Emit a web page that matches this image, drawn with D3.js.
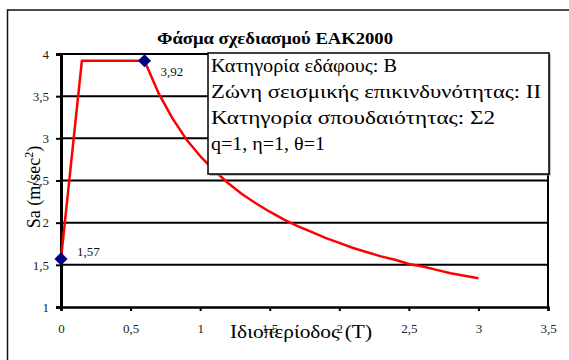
<!DOCTYPE html>
<html>
<head>
<meta charset="utf-8">
<script src="https://cdn.jsdelivr.net/npm/d3@7"></script>
<style>
  html, body { margin: 0; padding: 0; background: #fff; }
  svg { display: block; }
</style>
</head>
<body>
<svg id="chart" width="569" height="360"></svg>
<script>
// Design spectrum EAK2000: period T (s) vs spectral acceleration Sa (m/sec^2)
const periods = [0, 0.15, 0.6, 0.7, 0.8, 0.9, 1.0, 1.1, 1.2, 1.3, 1.4, 1.5, 1.6, 1.7, 1.8, 1.9,
                 2.0, 2.1, 2.2, 2.3, 2.4, 2.5, 2.6, 2.7, 2.8, 2.9, 3.0];
const saValues = [1.57, 3.92, 3.92, 3.54, 3.24, 2.99, 2.79, 2.62, 2.47, 2.34, 2.23, 2.13, 2.04, 1.96, 1.89, 1.82,
                  1.76, 1.70, 1.65, 1.60, 1.56, 1.51, 1.48, 1.44, 1.40, 1.37, 1.34];
// Labelled key points
const keyPeriods = [0, 0.6];
const keyValues = [1.57, 3.92];
const keyLabels = ["1,57", "3,92"];
// Axis ticks
const xTicks = [0, 0.5, 1, 1.5, 2, 2.5, 3, 3.5];
const yTicks = [1, 1.5, 2, 2.5, 3, 3.5, 4];
const infoLines = [
  "Κατηγορία εδάφους: Β",
  "Ζώνη σεισμικής επικινδυνότητας: ΙΙ",
  "Κατηγορία σπουδαιότητας: Σ2",
  "q=1, η=1, θ=1"
];
const title = "Φάσμα σχεδιασμού ΕΑΚ2000";
const xTitle = "Ιδιοπερίοδος (T)";

const SERIF = "'Liberation Serif', 'Times New Roman', Times, serif";
const fmt = v => String(v).replace(".", ",");

// Stretch a text element horizontally to a given advance width
function fitWidth(sel, w) {
  sel.attr("textLength", w).attr("lengthAdjust", "spacingAndGlyphs");
}

const svg = d3.select("#chart");
const plot = { left: 61, right: 548, top: 54, bottom: 307 };

const x = d3.scaleLinear().domain([0, 3.5]).range([plot.left, plot.right]);
const y = d3.scaleLinear().domain([1, 4]).range([plot.bottom, plot.top]);

// chart frame
svg.append("rect")
  .attr("x", 7.5).attr("y", 10).attr("width", 620).attr("height", 400)
  .attr("fill", "#fff").attr("stroke", "#111").attr("stroke-width", 1.5);

// horizontal gridlines
svg.append("g")
  .selectAll("line")
  .data(yTicks.filter(v => v > 1))
  .join("line")
  .attr("x1", plot.left).attr("x2", plot.right)
  .attr("y1", d => y(d)).attr("y2", d => y(d))
  .attr("stroke", "#000").attr("stroke-width", 2);

// right border of plot area
svg.append("line")
  .attr("x1", plot.right).attr("x2", plot.right)
  .attr("y1", plot.top).attr("y2", plot.bottom)
  .attr("stroke", "#000").attr("stroke-width", 2);

// x axis
const xAxis = d3.axisBottom(x).tickValues(xTicks).tickFormat(fmt).tickSize(4).tickPadding(13);
const gx = svg.append("g").attr("transform", `translate(0,${plot.bottom})`).call(xAxis);
gx.attr("font-family", null);
gx.select(".domain").attr("stroke", "#000").attr("stroke-width", 2.5);
gx.selectAll(".tick line").attr("stroke", "#000").attr("stroke-width", 2);
gx.selectAll(".tick text")
  .style("font-family", SERIF).attr("font-size", 13).attr("fill", "#222");

// y axis
const yAxis = d3.axisLeft(y).tickValues(yTicks).tickFormat(fmt).tickSize(5).tickPadding(7);
const gy = svg.append("g").attr("transform", `translate(${plot.left},0)`).call(yAxis);
gy.attr("font-family", null);
gy.select(".domain").attr("stroke", "#000").attr("stroke-width", 3);
gy.selectAll(".tick line").attr("stroke", "#000").attr("stroke-width", 2);
gy.selectAll(".tick text")
  .style("font-family", SERIF).attr("font-size", 13).attr("fill", "#222");

// spectrum curve
const line = d3.line().x(d => x(d[0])).y(d => y(d[1]));
svg.append("path")
  .datum(periods.map((t, i) => [t, saValues[i]]))
  .attr("d", line)
  .attr("fill", "none")
  .attr("stroke", "#ff0000")
  .attr("stroke-width", 2.5)
  .attr("stroke-linejoin", "round");

// key point markers
const keyPts = keyPeriods.map((t, i) => ({ t, v: keyValues[i], label: keyLabels[i] }));
svg.append("g")
  .selectAll("path")
  .data(keyPts)
  .join("path")
  .attr("d", d3.symbol().type(d3.symbolDiamond2).size(110))
  .attr("transform", d => `translate(${x(d.t)},${y(d.v)})`)
  .attr("fill", "#000080");

svg.append("g")
  .selectAll("text")
  .data(keyPts)
  .join("text")
  .attr("x", d => x(d.t) + 16)
  .attr("y", d => y(d.v) + (d.t === 0 ? -3 : 15))
  .style("font-family", SERIF)
  .attr("font-size", 13)
  .attr("fill", "#111")
  .text(d => d.label);

// info box
const box = { x: 208, y: 53, w: 341, h: 121 };
const infoWidths = [186, 330, 284, 114];
svg.append("rect")
  .attr("x", box.x + 1.5).attr("y", box.y + 1.5).attr("width", box.w).attr("height", box.h)
  .attr("fill", "#888");
svg.append("rect")
  .attr("x", box.x).attr("y", box.y).attr("width", box.w).attr("height", box.h)
  .attr("fill", "#fff").attr("stroke", "#000").attr("stroke-width", 1.5);
svg.append("g")
  .selectAll("text")
  .data(infoLines)
  .join("text")
  .attr("x", box.x + 3)
  .attr("y", (d, i) => box.y + 19 + i * 26)
  .style("font-family", SERIF)
  .attr("font-size", 18)
  .attr("fill", "#000")
  .text(d => d)
  .each(function (d, i) { fitWidth(d3.select(this), infoWidths[i]); });

// title
svg.append("text")
  .attr("x", 275).attr("y", 44)
  .attr("text-anchor", "middle")
  .style("font-family", SERIF)
  .attr("font-size", 17).attr("font-weight", "bold")
  .attr("fill", "#000")
  .text(title)
  .call(fitWidth, 236);

// axis titles
svg.append("text")
  .attr("x", 301).attr("y", 338)
  .attr("text-anchor", "middle")
  .style("font-family", SERIF)
  .attr("font-size", 19)
  .attr("fill", "#000")
  .text(xTitle)
  .call(fitWidth, 142);

const yt = svg.append("text")
  .attr("transform", "translate(40,187) rotate(-90)")
  .attr("text-anchor", "middle")
  .style("font-family", SERIF)
  .attr("font-size", 18)
  .attr("fill", "#000");
yt.append("tspan").text("Sa (m/sec");
yt.append("tspan").attr("dy", -7).attr("font-size", 12).text("2");
yt.append("tspan").attr("dy", 7).text(")");
</script>
</body>
</html>
